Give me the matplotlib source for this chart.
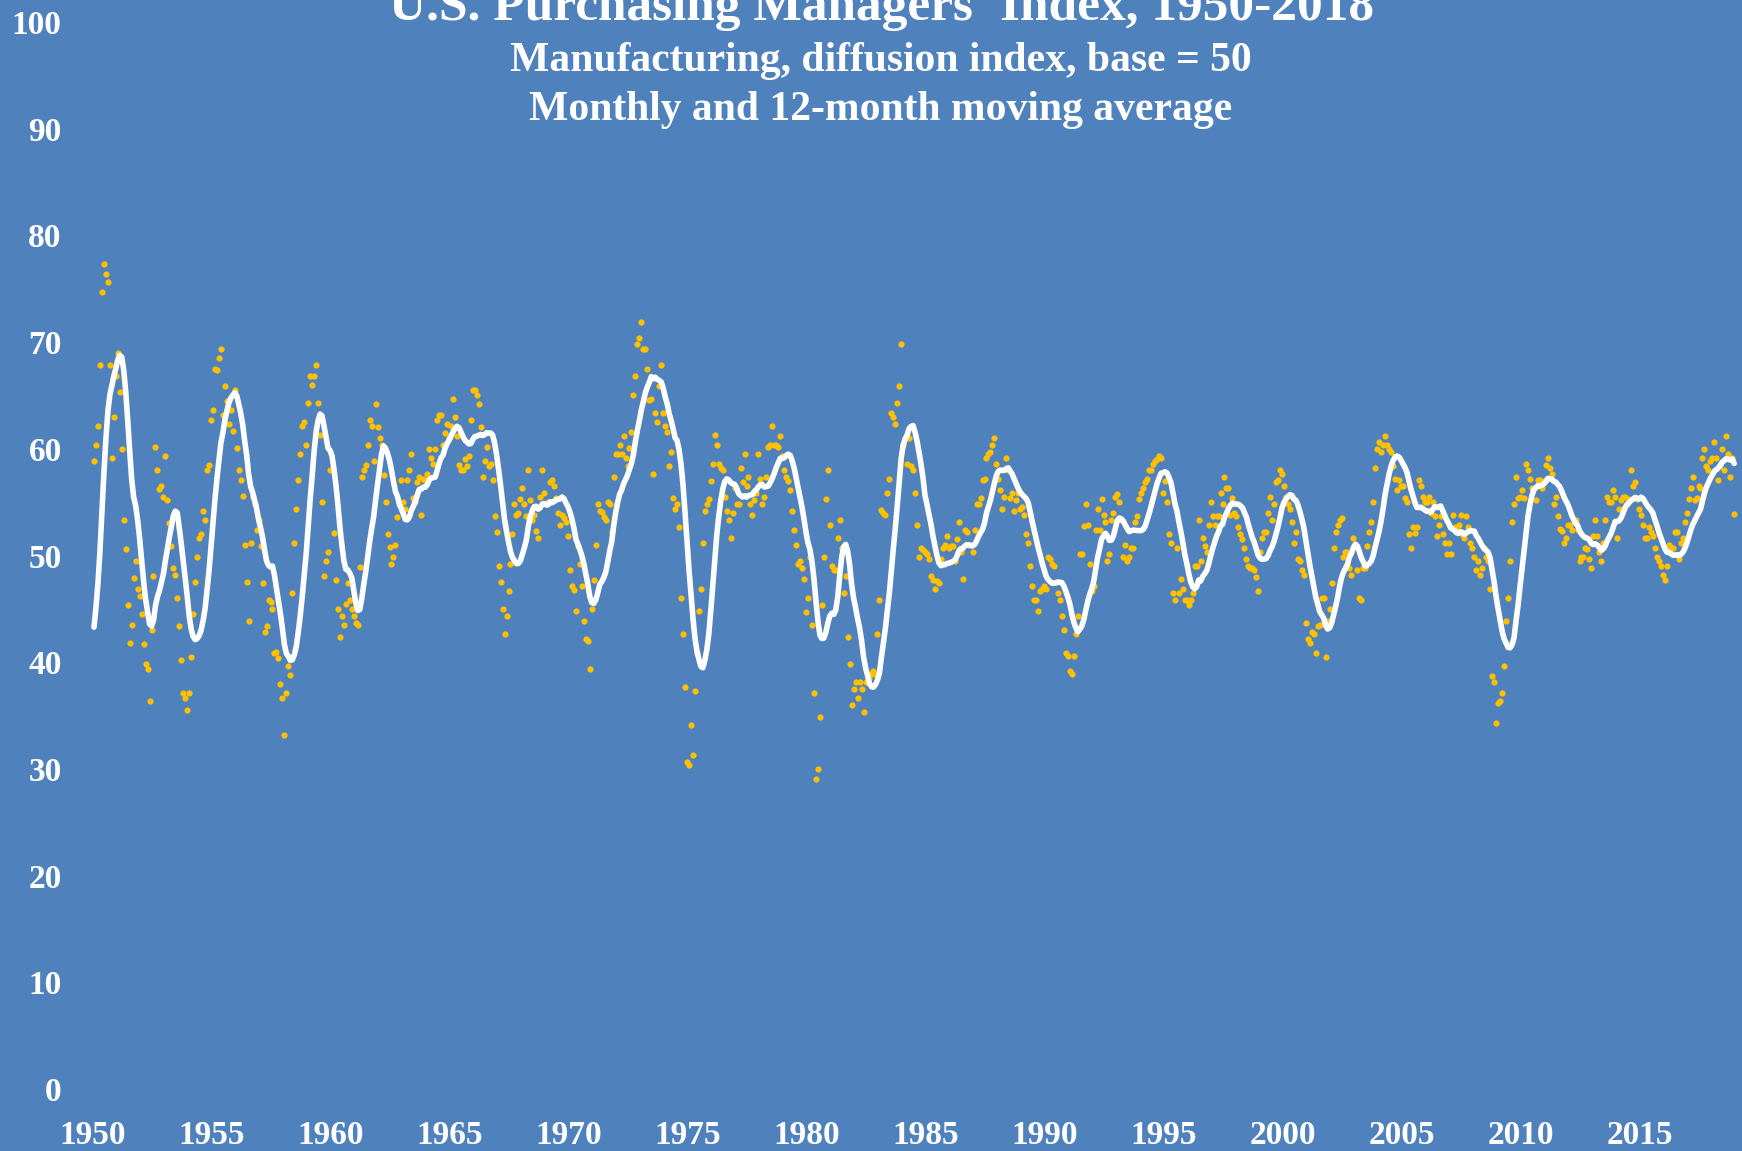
import numpy as np
import pandas as pd
import matplotlib
matplotlib.use("Agg")
import matplotlib.pyplot as plt

# Monthly PMI readings, Jan..Dec of each year.
# 1949 is not plotted; it only seeds the 12-month moving average at the start.
pmi_1949 = [40.0, 38.0, 35.0, 32.0, 31.0, 33.0, 38.0, 45.0, 49.0, 49.0, 52.0, 58.5]

pmi_1950s = [
    58.9, 60.4, 62.1, 67.9, 74.7, 77.3, 76.4, 75.6, 67.9, 59.1, 63.0, 66.8,
    69.0, 65.3, 60.0, 53.3, 50.6, 45.4, 41.8, 43.5, 47.9, 49.5, 46.9, 46.2,
    44.5, 41.7, 39.8, 39.4, 36.4, 43.0, 48.1, 60.2, 58.0, 56.2, 56.5, 55.5,
    59.3, 55.2, 53.0, 50.9, 48.8, 48.2, 46.0, 43.4, 40.2, 37.1, 36.6, 35.5,
    37.1, 40.5, 44.5, 47.5, 49.9, 51.6, 52.0, 54.2, 53.3, 58.0, 58.5, 62.7,
    63.6, 67.5, 67.4, 68.5, 69.4, 63.2, 65.9, 64.5, 62.3, 63.6, 61.7, 65.5,
    60.1, 58.0, 57.1, 55.6, 51.0, 47.5, 43.9, 51.2, 55.5, 54.8, 52.4, 53.3,
    50.9, 47.4, 42.8, 43.4, 45.8, 45.6, 45.0, 40.9, 41.0, 40.4, 38.0, 36.6,
    33.2, 37.1, 39.6, 38.8, 46.5, 51.2, 54.4, 57.1, 59.5, 62.1, 62.5, 60.4,
    64.3, 66.8, 66.0, 66.8, 67.9, 64.3, 61.3, 55.0, 48.1, 49.5, 50.3, 58.0,
]

pmi_1960s = [
    58.0, 52.1, 47.7, 45.0, 42.4, 44.3, 43.5, 45.5, 47.4, 45.8, 45.0, 44.3,
    43.7, 43.5, 48.9, 57.4, 58.0, 58.5, 60.4, 62.7, 62.1, 58.9, 64.2, 62.0,
    61.0, 60.4, 57.5, 55.0, 52.0, 50.8, 49.2, 49.9, 51.0, 53.6, 55.0, 57.1,
    55.0, 54.4, 57.1, 58.0, 59.5, 55.4, 55.0, 56.9, 57.4, 53.8, 57.2, 57.1,
    57.6, 60.0, 59.1, 58.6, 60.0, 62.7, 63.2, 63.2, 60.4, 61.5, 62.3, 61.0,
    62.1, 64.7, 63.0, 61.2, 58.5, 58.0, 58.0, 59.0, 58.4, 59.3, 62.7, 65.5,
    65.5, 65.0, 64.2, 62.0, 57.4, 58.9, 60.2, 58.4, 58.6, 57.1, 53.7, 52.2,
    49.0, 47.5, 45.0, 42.6, 44.3, 46.7, 49.2, 52.0, 54.8, 53.8, 54.0, 55.3,
    56.3, 54.8, 53.7, 58.0, 55.2, 53.3, 53.8, 52.3, 51.6, 55.5, 58.0, 55.9,
    54.8, 55.0, 56.9, 57.1, 56.5, 55.4, 54.0, 52.9, 53.8, 53.5, 53.1, 51.8,
]

pmi_1970s = [
    48.6, 47.1, 46.8, 44.8, 50.9, 49.2, 47.1, 43.9, 42.2, 42.0, 39.4, 45.0,
    47.7, 51.0, 54.8, 54.2, 54.1, 53.6, 53.3, 55.0, 54.8, 52.2, 57.4, 59.5,
    59.5, 60.4, 59.5, 61.2, 59.1, 58.4, 60.1, 61.6, 65.0, 66.8, 69.8, 70.4,
    71.9, 69.4, 69.4, 67.5, 64.6, 64.7, 57.6, 63.4, 62.5, 65.9, 67.9, 63.4,
    62.1, 61.6, 58.4, 59.7, 55.4, 54.4, 54.8, 52.7, 46.0, 42.6, 37.7, 30.6,
    30.4, 34.1, 31.3, 37.3, 40.9, 44.8, 46.9, 51.2, 54.2, 54.8, 55.3, 57.0,
    58.6, 61.3, 60.4, 58.6, 58.2, 58.0, 55.5, 54.2, 53.3, 51.6, 54.0, 56.3,
    54.8, 54.8, 58.2, 56.9, 59.5, 56.5, 57.4, 54.8, 53.8, 55.2, 55.9, 59.5,
    57.2, 54.8, 55.5, 57.4, 60.2, 60.4, 62.1, 60.4, 60.4, 60.2, 61.2, 59.3,
    58.0, 57.4, 57.0, 56.1, 54.2, 52.4, 51.0, 49.2, 49.5, 48.8, 47.8, 44.7,
]

pmi_1980s = [
    46.0, 49.9, 43.5, 37.1, 29.1, 30.0, 34.9, 45.4, 49.9, 55.3, 58.0, 52.9,
    49.0, 48.6, 48.6, 51.6, 53.3, 50.7, 46.5, 48.1, 42.4, 39.8, 36.0, 37.5,
    38.1, 36.6, 38.1, 37.5, 35.3, 38.1, 38.1, 38.5, 38.9, 39.2, 38.9, 42.6,
    45.8, 54.3, 54.0, 53.8, 55.9, 57.2, 63.4, 63.0, 62.3, 64.3, 65.9, 69.8,
    60.4, 61.0, 58.6, 61.0, 58.4, 58.0, 55.9, 52.9, 49.9, 50.7, 50.5, 50.3,
    50.1, 49.7, 48.1, 47.7, 46.9, 47.6, 47.4, 49.7, 50.7, 51.0, 51.8, 50.7,
    50.9, 50.9, 49.5, 51.5, 53.1, 50.3, 47.8, 52.4, 52.2, 51.0, 51.0, 50.3,
    52.4, 54.8, 54.8, 55.4, 57.1, 57.2, 59.1, 59.5, 59.7, 60.4, 61.0, 58.6,
    57.2, 56.1, 54.4, 55.5, 59.1, 58.0, 55.4, 55.9, 54.2, 55.2, 55.9, 54.4,
    54.5, 53.8, 52.0, 51.2, 49.0, 47.1, 45.8, 45.8, 44.8, 46.7, 46.9, 47.1,
]

pmi_1990s = [
    46.9, 49.9, 49.7, 49.2, 49.0, 47.5, 46.5, 45.8, 44.3, 43.0, 40.9, 40.6,
    39.2, 38.9, 40.6, 42.6, 44.3, 50.1, 50.1, 52.8, 54.8, 52.9, 49.2, 46.7,
    47.1, 52.4, 54.4, 52.4, 55.3, 53.8, 53.1, 49.5, 50.1, 53.3, 54.0, 55.5,
    55.8, 55.0, 53.3, 49.9, 51.0, 49.5, 49.9, 50.7, 50.7, 53.1, 53.7, 55.3,
    55.9, 56.3, 56.9, 57.2, 58.0, 58.0, 58.6, 58.9, 59.0, 59.3, 59.1, 55.9,
    57.0, 55.0, 52.0, 51.2, 46.5, 45.8, 50.7, 46.5, 47.8, 46.9, 45.8, 45.8,
    45.4, 45.8, 46.5, 49.0, 49.0, 53.3, 49.5, 51.6, 50.9, 50.3, 52.9, 55.0,
    53.7, 52.9, 53.7, 53.7, 55.9, 54.8, 57.4, 56.3, 56.3, 53.8, 55.4, 54.0,
    53.7, 52.7, 52.0, 51.5, 50.7, 49.7, 49.0, 48.8, 48.8, 48.6, 48.0, 46.7,
    50.3, 51.6, 52.2, 52.2, 54.0, 55.5, 53.3, 54.8, 56.9, 57.1, 58.0, 57.6,
]

pmi_2000s = [
    56.5, 55.5, 54.8, 54.4, 53.1, 51.2, 52.2, 49.7, 49.5, 48.6, 48.2, 43.7,
    42.2, 41.8, 42.8, 42.6, 40.9, 43.4, 43.5, 46.0, 46.0, 40.5, 43.9, 45.0,
    47.4, 50.7, 52.2, 52.9, 53.3, 53.5, 49.9, 50.3, 50.3, 48.8, 48.2, 51.6,
    51.0, 48.6, 46.0, 45.8, 48.8, 48.8, 50.9, 52.2, 53.1, 55.0, 58.2, 60.0,
    60.6, 59.7, 60.4, 61.2, 60.4, 60.0, 59.7, 58.4, 57.2, 56.1, 57.1, 56.5,
    56.5, 55.4, 55.0, 52.0, 50.7, 52.7, 52.1, 52.7, 57.1, 56.5, 55.5, 55.0,
    55.0, 55.5, 54.0, 55.0, 53.7, 51.8, 52.9, 53.7, 52.0, 51.2, 50.1, 51.2,
    50.1, 53.8, 52.7, 52.4, 52.9, 53.8, 52.0, 51.6, 53.7, 52.7, 51.2, 50.7,
    49.9, 48.6, 49.5, 48.2, 48.8, 50.7, 49.9, 49.5, 46.9, 38.7, 38.1, 34.3,
    36.2, 36.4, 37.1, 39.6, 43.9, 46.0, 49.5, 53.1, 54.8, 57.4, 55.4, 55.5,
]

pmi_2010s = [
    56.1, 55.4, 58.6, 58.0, 57.2, 56.3, 56.3, 55.2, 57.1, 57.1, 56.3, 57.0,
    58.5, 59.1, 58.2, 57.6, 54.8, 55.5, 53.7, 52.5, 52.3, 51.2, 51.6, 52.9,
    52.9, 52.4, 53.3, 53.3, 52.4, 49.5, 49.9, 49.9, 50.7, 50.6, 49.7, 48.8,
    51.8, 53.3, 51.8, 50.3, 49.5, 51.2, 53.3, 55.5, 55.0, 55.0, 56.1, 55.5,
    51.6, 54.4, 55.2, 55.5, 55.5, 54.8, 55.3, 58.0, 56.5, 56.9, 55.3, 54.4,
    53.8, 52.9, 51.6, 51.6, 52.7, 52.2, 51.8, 50.7, 49.9, 49.5, 49.0, 48.2,
    47.7, 49.0, 51.0, 50.7, 50.7, 52.2, 52.2, 49.7, 51.2, 51.6, 53.1, 54.0,
    55.3, 56.3, 57.4, 55.2, 55.4, 56.5, 56.3, 59.1, 60.0, 58.4, 58.0, 58.9,
    59.1, 60.6, 59.1, 57.1, 58.5, 60.0, 58.0, 61.2, 59.5, 57.4, 59.1, 53.9,
]

year_ticks = list(range(1950, 2016, 5))
value_ticks = list(range(0, 101, 10))

title = "U.S. Purchasing Managers' Index, 1950-2018"
subtitle1 = "Manufacturing, diffusion index, base = 50"
subtitle2 = "Monthly and 12-month moving average"

# monthly series and its trailing 12-month average
pmi = pd.Series(pmi_1949 + pmi_1950s + pmi_1960s + pmi_1970s + pmi_1980s
                + pmi_1990s + pmi_2000s + pmi_2010s)
ma12 = pmi.rolling(12).mean().iloc[12:].to_numpy()
monthly = pmi.iloc[12:].to_numpy()
x = 1950 + (np.arange(len(monthly)) + 0.5) / 12

bg = "#4F81BD"
serif = ["Liberation Serif", "DejaVu Serif"]

fig = plt.figure(figsize=(17.42, 11.51), dpi=100, facecolor=bg)
W, H = 1742, 1151
ax = fig.add_axes([70 / W, 62 / H, 1 - 70 / W, 1067 / H])
ax.set_facecolor(bg)

ax.scatter(x, monthly, s=20, marker="o", color="#FFC000", linewidths=0, zorder=2)
ax.plot(x, ma12, color="white", lw=4, solid_capstyle="round", zorder=3)

ax.set_xlim(1950 + (70 - 93) / 23.8, 1950 + (W - 93) / 23.8)
ax.set_ylim(0, 100)
ax.set_xticks(year_ticks)
ax.set_yticks(value_ticks)
for s in ax.spines.values():
    s.set_visible(False)
ax.tick_params(axis="both", length=0, labelcolor="white", labelsize=24)
ax.tick_params(axis="y", pad=6)
ax.tick_params(axis="x", pad=22)
for lab in ax.get_xticklabels() + ax.get_yticklabels():
    lab.set_family(serif)
    lab.set_fontweight("bold")

# title sits partly above the top edge, as in the original
fig.text(882 / W, 1 - 20 / H, title, ha="center", va="baseline", color="white",
         fontsize=37, fontweight="bold", family=serif)
fig.text(881 / W, 1 - 61 / H, subtitle1, ha="center", va="center", color="white",
         fontsize=30, fontweight="bold", family=serif)
fig.text(881 / W, 1 - 110 / H, subtitle2, ha="center", va="center", color="white",
         fontsize=30, fontweight="bold", family=serif)

fig.savefig("out.png", dpi=100, facecolor=bg)
